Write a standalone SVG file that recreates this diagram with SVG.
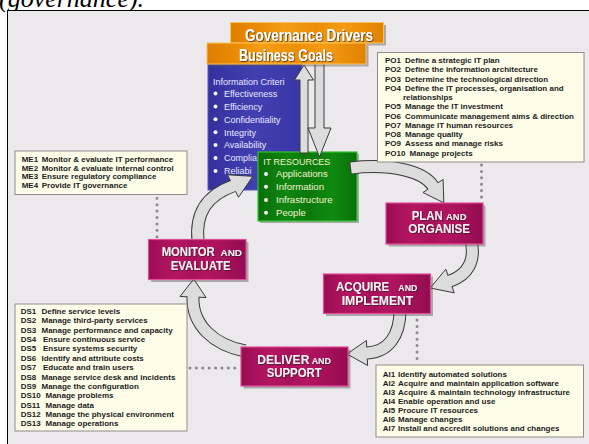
<svg xmlns="http://www.w3.org/2000/svg" width="589" height="444" viewBox="0 0 589 444">
<defs>
  <linearGradient id="gOrange" x1="0" y1="0" x2="1" y2="0">
    <stop offset="0" stop-color="#e07e00"/>
    <stop offset="0.2" stop-color="#eb8d06"/>
    <stop offset="0.35" stop-color="#f49e14"/>
    <stop offset="0.55" stop-color="#ec8f08"/>
    <stop offset="0.75" stop-color="#f39b12"/>
    <stop offset="1" stop-color="#e18100"/>
  </linearGradient>
  <linearGradient id="gMag" x1="0" y1="0" x2="1" y2="0">
    <stop offset="0" stop-color="#960d51"/>
    <stop offset="0.12" stop-color="#a8115b"/>
    <stop offset="0.3" stop-color="#b51662"/>
    <stop offset="0.45" stop-color="#a8115b"/>
    <stop offset="0.6" stop-color="#b31561"/>
    <stop offset="0.8" stop-color="#a5105a"/>
    <stop offset="1" stop-color="#930c50"/>
  </linearGradient>
  <linearGradient id="gGreen" x1="0" y1="0" x2="1" y2="0">
    <stop offset="0" stop-color="#0a6f0a"/>
    <stop offset="0.3" stop-color="#0f860f"/>
    <stop offset="0.5" stop-color="#0b780b"/>
    <stop offset="0.75" stop-color="#108a10"/>
    <stop offset="1" stop-color="#0a700a"/>
  </linearGradient>
  <linearGradient id="gBlue" x1="0" y1="0" x2="1" y2="0">
    <stop offset="0" stop-color="#34319e"/>
    <stop offset="0.5" stop-color="#4240b0"/>
    <stop offset="1" stop-color="#3936a6"/>
  </linearGradient>
  <filter id="ts" x="-10%" y="-30%" width="120%" height="160%">
    <feDropShadow dx="0.8" dy="0.8" stdDeviation="0.3" flood-color="#2a1a1a" flood-opacity="0.85"/>
  </filter>
</defs>
<style>
  .list{fill:#fefee8;stroke:#8c8c8c;stroke-width:1}
  .lt{font-family:"Liberation Sans",Arial,sans-serif;font-weight:bold;font-size:8px;fill:#1c1c1c}
  .proc{fill:url(#gMag);stroke:#e24a98;stroke-width:1.2}
  .shadow{fill:#5a5a5a;opacity:.45}
  .pt{font-family:"Liberation Sans",Arial,sans-serif;font-weight:bold;font-size:13px;fill:#f6eef2;filter:url(#ts)}
  .w{font-size:12px}
  .s{font-size:9.5px}
  .ot{font-family:"Liberation Sans",Arial,sans-serif;font-weight:bold;font-size:16px;fill:#ffffff;filter:url(#ts)}
  .orange{fill:url(#gOrange);stroke:#f6c35c;stroke-width:1}
  .bt{font-family:"Liberation Sans",Arial,sans-serif;font-size:9px;fill:#e8e8ff}
  .gt{font-family:"Liberation Sans",Arial,sans-serif;font-size:9.6px;fill:#f2f2d0}
  .dot{fill:#f4f4f4}
  .dots{stroke:#8a8a8a;stroke-width:3;stroke-linecap:round;stroke-dasharray:0 6.4;fill:none}
  .aOut{fill:none;stroke:#3a3a3a;stroke-width:13}
  .aIn{fill:none;stroke:#dcdcdc;stroke-width:11}
  .aHead{fill:#dcdcdc;stroke:#3a3a3a;stroke-width:1;stroke-linejoin:miter}
  .vArrow{fill:#dcdcdc;stroke:#3a3a3a;stroke-width:1}
</style>

<!-- page frame -->
<text x="-1" y="6.5" font-family="Liberation Serif, serif" font-style="italic" font-size="26" fill="#000">(governance).</text>
<rect x="7.5" y="10.5" width="600" height="450" fill="#ebe9ec" stroke="#000" stroke-width="1"/>

<!-- information criteria panel -->
<g id="node-information-criteria">
  <rect x="208" y="64" width="94" height="126" fill="url(#gBlue)" stroke="#5a58c4" stroke-width="1"/>
  <text class="bt" x="213" y="85" font-size="10">Information Criteri</text>
  <g class="dot">
    <circle cx="215.5" cy="93.5" r="2"/><circle cx="215.5" cy="106.4" r="2"/><circle cx="215.5" cy="119.3" r="2"/>
    <circle cx="215.5" cy="132.2" r="2"/><circle cx="215.5" cy="145.1" r="2"/><circle cx="215.5" cy="158" r="2"/>
    <circle cx="215.5" cy="170.9" r="2"/>
  </g>
  <text class="bt" x="224" y="96.8">Effectiveness</text>
  <text class="bt" x="224" y="109.7">Efficiency</text>
  <text class="bt" x="224" y="122.6">Confidentiality</text>
  <text class="bt" x="224" y="135.5">Integrity</text>
  <text class="bt" x="224" y="148.4">Availability</text>
  <text class="bt" x="224" y="161.3">Complia</text>
  <text class="bt" x="224" y="174.2">Reliabi</text>
</g>

<!-- IT resources panel -->
<g id="node-it-resources">
  <rect x="260" y="154" width="99" height="69" class="shadow"/>
  <rect x="258" y="152" width="99" height="69" fill="url(#gGreen)" stroke="#33c233" stroke-width="1.2"/>
  <text class="gt" x="263.3" y="164.5" font-size="10.5" textLength="67" lengthAdjust="spacingAndGlyphs">IT RESOURCES</text>
  <g class="dot">
    <circle cx="266" cy="174" r="2"/><circle cx="266" cy="186.7" r="2"/>
    <circle cx="266" cy="200" r="2"/><circle cx="266" cy="212.7" r="2"/>
  </g>
  <text class="gt" x="276" y="177.4">Applications</text>
  <text class="gt" x="276" y="190.1">Information</text>
  <text class="gt" x="276" y="203.4">Infrastructure</text>
  <text class="gt" x="276" y="216.1">People</text>
</g>

<!-- connectors: block arrows of the cycle and dotted links to the lists -->
<g id="connectors">
  <!-- governance <-> resources -->
  <polygon class="vArrow" points="304,65 313.5,80 308,80 308,153 300,153 300,80 294.5,80"/>
  <polygon class="vArrow" points="315,58 324,58 324,128 331,128 319.5,157 308,128 315,128"/>

  <!-- resources -> plan and organise -->
  <path class="aOut" d="M350,168 C393,163 424,172 433,186"/>
  <polygon class="aHead" points="422.9,192.5 443.8,202.8 443.1,179.5"/>
  <path class="aIn" d="M351,168 C393,163 424,172 433,186 L434.2,187.8"/>

  <!-- plan and organise -> acquire and implement -->
  <path class="aOut" d="M471,240 C476,262 467,275 450,281"/>
  <polygon class="aHead" points="454.2,292.8 430.2,288 445.8,269.2"/>
  <path class="aIn" d="M471,240 C476,262 467,275 450,281 L448.3,281.6"/>

  <!-- acquire and implement -> deliver and support -->
  <path class="aOut" d="M400,310 C400,336 388,352 367,353"/>
  <polygon class="aHead" points="367.6,365.5 347,354 366.4,340.5"/>
  <path class="aIn" d="M400,310 C400,336 388,352 367,353 L365,353.1"/>

  <!-- deliver and support -> monitor and evaluate -->
  <path class="aOut" d="M245,351 C214,345 192,325 193,297"/>
  <polygon class="aHead" points="206,297.5 193.7,279 180,296.5"/>
  <path class="aIn" d="M245,351 C214,345 192,325 193,297 L193.1,295"/>

  <!-- monitor and evaluate -> resources -->
  <path class="aOut" d="M198,241 C195,212 208,195 233,186"/>
  <polygon class="aHead" points="227.5,174.8 252.8,176.3 238.5,197.3"/>
  <path class="aIn" d="M198,241 C195,212 208,195 233,186 L234.8,185.3"/>

  <!-- dotted links -->
  <line class="dots" x1="157" y1="198.3" x2="157" y2="237"/>
  <line class="dots" x1="481.5" y1="165" x2="481.5" y2="201"/>
  <line class="dots" x1="417" y1="320" x2="417" y2="362"/>
  <line class="dots" x1="190" y1="368" x2="237" y2="368"/>
</g>

<!-- governance drivers and business goals -->
<g id="node-governance-drivers">
  <rect x="233" y="25" width="153" height="20.5" class="shadow"/>
  <rect x="230.5" y="22.5" width="153" height="20.5" class="orange"/>
  <text class="ot" x="245" y="41" textLength="128" lengthAdjust="spacingAndGlyphs">Governance Drivers</text>
</g>
<g id="node-business-goals">
  <rect x="209.5" y="45.5" width="159" height="21" class="shadow"/>
  <rect x="207" y="43" width="159" height="21" class="orange"/>
  <text class="ot" x="239" y="60.5" textLength="94" lengthAdjust="spacingAndGlyphs">Business Goals</text>
</g>

<!-- process domains -->
<g id="node-monitor-evaluate">
  <rect x="151" y="242" width="97.5" height="40" class="shadow"/>
  <rect x="148.5" y="239.5" width="97.5" height="40" class="proc"/>
  <text class="pt w" x="161.7" y="256.3" textLength="53" lengthAdjust="spacingAndGlyphs">MONITOR</text>
  <text class="pt s" x="220.5" y="256.3" textLength="21.5" lengthAdjust="spacingAndGlyphs">AND</text>
  <text class="pt" x="170.7" y="270.3" textLength="60" lengthAdjust="spacingAndGlyphs">EVALUATE</text>
</g>
<g id="node-plan-organise">
  <rect x="388.5" y="205.5" width="97" height="41" class="shadow"/>
  <rect x="386" y="203" width="97" height="41" class="proc"/>
  <text class="pt w" x="411.7" y="219.5" textLength="31" lengthAdjust="spacingAndGlyphs">PLAN</text>
  <text class="pt s" x="446" y="219.5" textLength="20.5" lengthAdjust="spacingAndGlyphs">AND</text>
  <text class="pt" x="408.3" y="233" textLength="61.7" lengthAdjust="spacingAndGlyphs">ORGANISE</text>
</g>
<g id="node-acquire-implement">
  <rect x="326" y="276.5" width="107" height="39.5" class="shadow"/>
  <rect x="323.5" y="274" width="107" height="39.5" class="proc"/>
  <text class="pt w" x="336" y="290.5" textLength="53.3" lengthAdjust="spacingAndGlyphs">ACQUIRE</text>
  <text class="pt s" x="398.3" y="290.5" textLength="19" lengthAdjust="spacingAndGlyphs">AND</text>
  <text class="pt" x="341.7" y="305" textLength="71.6" lengthAdjust="spacingAndGlyphs">IMPLEMENT</text>
</g>
<g id="node-deliver-support">
  <rect x="243.5" y="349.5" width="107" height="39" class="shadow"/>
  <rect x="241" y="347" width="107" height="39" class="proc"/>
  <text class="pt w" x="257.3" y="363.5" textLength="52" lengthAdjust="spacingAndGlyphs">DELIVER</text>
  <text class="pt s" x="311.7" y="363.5" textLength="19.3" lengthAdjust="spacingAndGlyphs">AND</text>
  <text class="pt" x="266.7" y="377" textLength="55" lengthAdjust="spacingAndGlyphs">SUPPORT</text>
</g>

<!-- process lists -->
<g id="node-po-list">
  <rect x="377.5" y="52.5" width="206.5" height="109.5" class="list"/>
  <text class="lt" y="63"><tspan x="385">PO1</tspan><tspan x="405">Define a strategic IT plan</tspan></text>
  <text class="lt" y="72.25"><tspan x="385">PO2</tspan><tspan x="405">Define the information architecture</tspan></text>
  <text class="lt" y="81.5"><tspan x="385">PO3</tspan><tspan x="405">Determine the technological direction</tspan></text>
  <text class="lt" y="90.75"><tspan x="385">PO4</tspan><tspan x="405">Define the IT processes, organisation and</tspan></text>
  <text class="lt" x="403" y="100">relationships</text>
  <text class="lt" y="109.25"><tspan x="385">PO5</tspan><tspan x="405">Manage the IT investment</tspan></text>
  <text class="lt" y="118.5"><tspan x="385">PO6</tspan><tspan x="405">Communicate management aims &amp; direction</tspan></text>
  <text class="lt" y="127.75"><tspan x="385">PO7</tspan><tspan x="405">Manage IT human resources</tspan></text>
  <text class="lt" y="137"><tspan x="385">PO8</tspan><tspan x="405">Manage quality</tspan></text>
  <text class="lt" y="146.25"><tspan x="385">PO9</tspan><tspan x="405">Assess and manage risks</tspan></text>
  <text class="lt" y="155.5"><tspan x="385">PO10</tspan><tspan x="409.5">Manage projects</tspan></text>
</g>
<g id="node-me-list">
  <rect x="15" y="151" width="172" height="43.5" class="list"/>
  <text class="lt" y="162"><tspan x="21.7">ME1</tspan><tspan x="41.7">Monitor &amp; evaluate IT performance</tspan></text>
  <text class="lt" y="170.7"><tspan x="21.7">ME2</tspan><tspan x="41.7">Monitor &amp; evaluate internal control</tspan></text>
  <text class="lt" y="179.4"><tspan x="21.7">ME3</tspan><tspan x="41.7">Ensure regulatory compliance</tspan></text>
  <text class="lt" y="188.1"><tspan x="21.7">ME4</tspan><tspan x="41.7">Provide IT governance</tspan></text>
</g>
<g id="node-ds-list">
  <rect x="15" y="304" width="172" height="127" class="list"/>
  <text class="lt" y="314"><tspan x="20.7">DS1</tspan><tspan x="41.5">Define service levels</tspan></text>
  <text class="lt" y="323.4"><tspan x="20.7">DS2</tspan><tspan x="41.5">Manage third-party services</tspan></text>
  <text class="lt" y="332.7"><tspan x="20.7">DS3</tspan><tspan x="41.5">Manage performance and capacity</tspan></text>
  <text class="lt" y="342.1"><tspan x="20.7">DS4</tspan><tspan x="43">Ensure continuous service</tspan></text>
  <text class="lt" y="351.4"><tspan x="20.7">DS5</tspan><tspan x="43">Ensure systems security</tspan></text>
  <text class="lt" y="360.8"><tspan x="20.7">DS6</tspan><tspan x="41.5">Identify and attribute costs</tspan></text>
  <text class="lt" y="370.2"><tspan x="20.7">DS7</tspan><tspan x="43">Educate and train users</tspan></text>
  <text class="lt" y="379.5"><tspan x="20.7">DS8</tspan><tspan x="41.5">Manage service desk and incidents</tspan></text>
  <text class="lt" y="388.9"><tspan x="20.7">DS9</tspan><tspan x="41.5">Manage the configuration</tspan></text>
  <text class="lt" y="398.2"><tspan x="20.7">DS10</tspan><tspan x="45.5">Manage problems</tspan></text>
  <text class="lt" y="407.6"><tspan x="20.7">DS11</tspan><tspan x="45.5">Manage data</tspan></text>
  <text class="lt" y="417"><tspan x="20.7">DS12</tspan><tspan x="45.5">Manage the physical environment</tspan></text>
  <text class="lt" y="426.3"><tspan x="20.7">DS13</tspan><tspan x="45.5">Manage operations</tspan></text>
</g>
<g id="node-ai-list">
  <rect x="376" y="365" width="207.5" height="72" class="list"/>
  <text class="lt" y="377.3"><tspan x="382.7">AI1</tspan><tspan x="398">Identify automated solutions</tspan></text>
  <text class="lt" y="386.2"><tspan x="382.7">AI2</tspan><tspan x="398">Acquire and maintain application software</tspan></text>
  <text class="lt" y="395.1"><tspan x="382.7">AI3</tspan><tspan x="398">Acquire &amp; maintain technology infrastructure</tspan></text>
  <text class="lt" y="404"><tspan x="382.7">AI4</tspan><tspan x="398">Enable operation and use</tspan></text>
  <text class="lt" y="412.9"><tspan x="382.7">AI5</tspan><tspan x="398">Procure IT resources</tspan></text>
  <text class="lt" y="421.8"><tspan x="382.7">AI6</tspan><tspan x="398">Manage changes</tspan></text>
  <text class="lt" y="430.7"><tspan x="382.7">AI7</tspan><tspan x="398">Install and accredit solutions and changes</tspan></text>
</g>
</svg>
